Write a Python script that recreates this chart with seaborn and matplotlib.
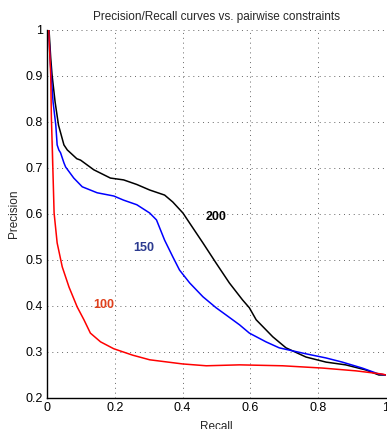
import numpy as np
import pandas as pd
import seaborn as sns
import matplotlib.pyplot as plt

# recall / precision
recall_200 = [0.0, 0.006, 0.011, 0.015, 0.024, 0.034, 0.050, 0.060, 0.066, 0.088, 0.099, 0.138,
              0.187, 0.226, 0.265, 0.303, 0.347, 0.371, 0.401, 0.430, 0.460, 0.499, 0.538, 0.577,
              0.597, 0.617, 0.666, 0.705, 0.764, 0.823, 0.881, 0.940, 0.979, 1.0]
prec_200 = [1.0, 1.0, 0.939, 0.902, 0.843, 0.793, 0.750, 0.739, 0.735, 0.720, 0.717, 0.696,
            0.678, 0.674, 0.664, 0.652, 0.641, 0.626, 0.602, 0.570, 0.537, 0.493, 0.450, 0.413,
            0.396, 0.370, 0.333, 0.309, 0.289, 0.278, 0.272, 0.261, 0.250, 0.250]

recall_150 = [0.0, 0.005, 0.009, 0.018, 0.026, 0.030, 0.035, 0.040, 0.050, 0.055, 0.079, 0.104,
              0.148, 0.197, 0.226, 0.265, 0.303, 0.323, 0.347, 0.371, 0.391, 0.421, 0.460, 0.499,
              0.529, 0.568, 0.597, 0.646, 0.685, 0.715, 0.764, 0.823, 0.871, 0.930, 0.979, 1.0]
prec_150 = [1.0, 1.0, 0.939, 0.843, 0.793, 0.750, 0.739, 0.733, 0.711, 0.702, 0.678, 0.659,
            0.646, 0.639, 0.630, 0.620, 0.602, 0.587, 0.543, 0.507, 0.478, 0.450, 0.420, 0.396,
            0.380, 0.359, 0.341, 0.322, 0.309, 0.304, 0.296, 0.287, 0.278, 0.265, 0.252, 0.250]

recall_100 = [0.0, 0.005, 0.011, 0.013, 0.016, 0.016, 0.021, 0.030, 0.045, 0.065, 0.089, 0.109,
              0.128, 0.158, 0.197, 0.253, 0.303, 0.400, 0.470, 0.568, 0.695, 0.813, 0.911, 0.989,
              1.0]
prec_100 = [1.0, 1.0, 0.902, 0.809, 0.761, 0.707, 0.602, 0.537, 0.485, 0.441, 0.398, 0.370,
            0.341, 0.322, 0.307, 0.293, 0.283, 0.274, 0.270, 0.272, 0.270, 0.265, 0.259, 0.252,
            0.250]

labels = ['200', '150', '100']
line_colors = ['black', 'blue', 'red']
text_colors = ['black', '#2b3a8f', '#e0401c']
label_pos = [(0.50, 0.593), (0.285, 0.527), (0.168, 0.402)]

sns.set_style('white')
plt.rcParams['font.family'] = ['Liberation Sans', 'DejaVu Sans']

fig = plt.figure(figsize=(3.87, 4.29), dpi=100)
ax = fig.add_axes([0.1214, 0.0723, 0.876, 0.858])

curves = [(recall_200, prec_200), (recall_150, prec_150), (recall_100, prec_100)]
for (r, p), lab, c in zip(curves, labels, line_colors):
    df = pd.DataFrame({'Recall': r, 'Precision': p})
    sns.lineplot(data=df, x='Recall', y='Precision', sort=False, color=c, lw=1.1, ax=ax)

for lab, (x, y), c in zip(labels, label_pos, text_colors):
    ax.text(x, y, lab, color=c, fontsize=9, fontweight='bold', ha='center', va='center')

ax.set_xlim(0, 1)
ax.set_ylim(0.2, 1)
ax.set_xticks(np.arange(0, 1.01, 0.2))
ax.set_xticklabels(['0', '0.2', '0.4', '0.6', '0.8', '1'])
ax.set_yticks(np.arange(0.2, 1.01, 0.1))
ax.set_yticklabels(['0.2', '0.3', '0.4', '0.5', '0.6', '0.7', '0.8', '0.9', '1'])
ax.grid(True, linestyle=(0, (1, 4)), color='#666666', lw=0.7)
ax.tick_params(direction='in', length=3, labelsize=9, colors='black', pad=3)
for s in ['top', 'right']:
    ax.spines[s].set_visible(False)
for s in ['left', 'bottom']:
    ax.spines[s].set_color('black')
    ax.spines[s].set_linewidth(1.0)
ax.set_xlabel('Recall', fontsize=8.5, labelpad=5)
ax.set_ylabel('Precision', fontsize=8.5, labelpad=4)
ax.set_title('Precision/Recall curves vs. pairwise constraints', fontsize=8.5, pad=7)

fig.savefig('out.png', dpi=100)
